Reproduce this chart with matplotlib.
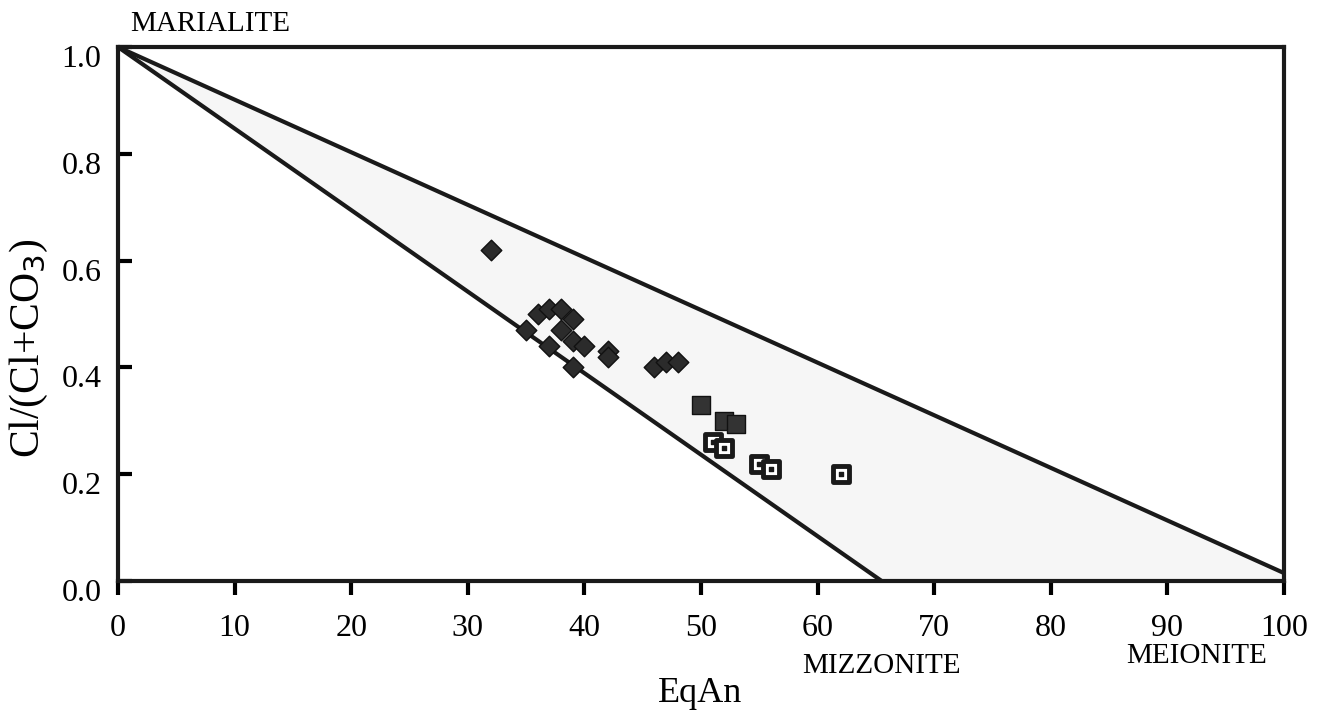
import numpy as np
from matplotlib import pyplot as plt
from matplotlib import transforms

# scapolite compositions
eqan_diamond = [32, 35, 36, 37, 37, 38, 38, 39, 39, 39, 40, 42, 42, 46, 47, 48]
cl_diamond = [0.62, 0.47, 0.50, 0.44, 0.51, 0.51, 0.47, 0.49, 0.45, 0.40, 0.44, 0.43, 0.42, 0.40, 0.41, 0.41]

eqan_square = [50, 52, 53]
cl_square = [0.33, 0.30, 0.295]

eqan_open = [51, 52, 55, 56, 62]
cl_open = [0.26, 0.25, 0.22, 0.21, 0.20]

# bounding lines of the scapolite field
upper_x = [0, 100]
upper_y = [1.0, 0.015]
lower_x = [0, 65.5]
lower_y = [1.0, 0.0]

xticks = [0, 10, 20, 30, 40, 50, 60, 70, 80, 90, 100]
yticks = [0.0, 0.2, 0.4, 0.6, 0.8, 1.0]

plt.rcParams['font.family'] = ['Liberation Serif', 'DejaVu Serif']

fig = plt.figure(figsize=(13.22, 7.13), dpi=100)
ax = fig.add_axes([0.0893, 0.185, 0.882, 0.749])

# faint stippled field between the lines
ax.fill([0, 65.5, 100, 100, 0], [1.0, 0.0, 0.0, 0.015, 1.0], color='#f6f6f6', zorder=0)

ax.plot(upper_x, upper_y, color='#1a1a1a', lw=3, solid_capstyle='butt')
ax.plot(lower_x, lower_y, color='#1a1a1a', lw=3, solid_capstyle='butt')

ax.scatter(eqan_diamond, cl_diamond, marker='D', s=110, color='#2b2b2b',
           edgecolors='#111111', linewidths=1, zorder=3)
ax.scatter(eqan_square, cl_square, marker='s', s=150, color='#333333',
           edgecolors='#111111', linewidths=1, zorder=3)
ax.scatter(eqan_open, cl_open, marker='s', s=120, color='white',
           edgecolors='#1a1a1a', linewidths=3.5, zorder=3)
ax.scatter(eqan_open, cl_open, marker='s', s=8, color='#1a1a1a', zorder=4)

ax.set_xlim(0, 100)
ax.set_ylim(0, 1.0)
ax.set_xticks(xticks)
ax.set_yticks(yticks)
ax.set_yticklabels(['%.1f' % v for v in yticks])

for s in ax.spines.values():
    s.set_linewidth(3)
    s.set_color('#1a1a1a')

ax.tick_params(axis='x', direction='out', length=10, width=3, labelsize=23, pad=14)
ax.tick_params(axis='y', direction='in', length=10, width=3, labelsize=23, pad=12)

# y labels sit a little below their ticks in the original
shift = transforms.ScaledTranslation(0, -0.09, fig.dpi_scale_trans)
for lab in ax.get_yticklabels():
    lab.set_transform(lab.get_transform() + shift)

ax.text(49.9, -0.21, 'EqAn', fontsize=26, ha='center', va='center')
ax.text(-0.076, 0.436, 'Cl/(Cl+CO$_3$)', transform=ax.transAxes, fontsize=30,
        rotation=90, ha='center', va='center')

ax.text(0.01, 1.018, 'MARIALITE', transform=ax.transAxes, fontsize=21,
        ha='left', va='bottom')
ax.text(58.7, -0.135, 'MIZZONITE', fontsize=21, ha='left', va='top')
ax.text(86.5, -0.115, 'MEIONITE', fontsize=21, ha='left', va='top')

fig.savefig('out.png', dpi=100)
